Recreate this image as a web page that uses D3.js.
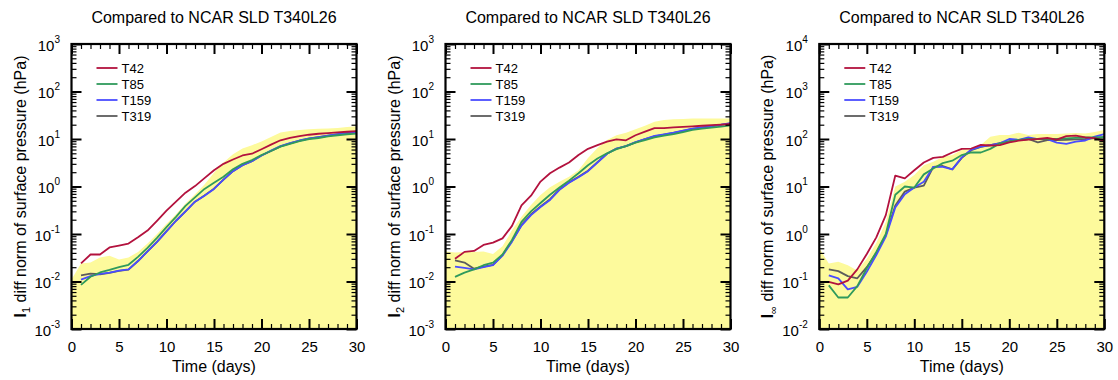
<!DOCTYPE html>
<html><head><meta charset="utf-8">
<script src="https://cdn.jsdelivr.net/npm/d3@7"></script>
<style>
body{margin:0;background:#fff}
svg{display:block}
text{font-family:"Liberation Sans",Arial,Helvetica,sans-serif;fill:#000}
</style>
</head><body>
<svg id="chart" width="1118" height="380"></svg>
<script>
// ---------------- DATA ----------------
const days = [1,2,3,4,5,6,7,8,9,10,11,12,13,14,15,16,17,18,19,20,21,22,23,24,25,26,27,28,29,30];
const envDays = [0,1,2,3,4,5,6,7,8,9,10,11,12,13,14,15,16,17,18,19,20,21,22,23,24,25,26,27,28,29,30];
const seriesNames = ["T42","T85","T159","T319"];
const xTickLabels = [0,5,10,15,20,25,30];
const titleText = "Compared to NCAR SLD T340L26";
const xTitle = "Time (days)";

// Panel 1 : l1 norm
const l1_T42  = [0.024,0.037,0.037,0.052,0.057,0.063,0.085,0.118,0.19,0.31,0.48,0.74,1.02,1.5,2.2,3.0,3.7,4.5,4.9,6.1,7.6,9.4,10.6,11.5,12.3,12.9,13.3,13.8,14.2,14.7];
const l1_T85  = [0.0085,0.0126,0.0155,0.0175,0.020,0.0225,0.033,0.051,0.083,0.14,0.23,0.39,0.59,0.89,1.2,1.6,2.3,3.0,3.6,4.6,5.6,6.9,7.9,9.0,10.0,10.5,11.3,12.0,12.6,13.0];
const l1_T159 = [0.011,0.013,0.0144,0.0154,0.017,0.018,0.027,0.043,0.068,0.114,0.19,0.30,0.48,0.64,0.89,1.4,2.1,2.8,3.4,4.5,5.7,7.1,8.2,9.3,10.3,11.0,11.8,12.6,13.4,14.2];
const l1_T319 = [0.0135,0.0146,0.0142,0.0152,0.0168,0.0178,0.027,0.043,0.068,0.115,0.19,0.30,0.48,0.65,0.9,1.4,2.1,2.8,3.4,4.5,5.6,7.0,8.1,9.2,10.2,10.9,11.7,12.5,13.2,14.0];
const l1_env  = [0.011,0.024,0.025,0.032,0.035,0.029,0.032,0.042,0.063,0.10,0.165,0.26,0.44,0.69,1.1,1.95,3.2,4.8,6.3,7.4,8.9,11,13.7,14.8,15.5,16,16.4,16.7,17,17.8,18.5];

// Panel 2 : l2 norm
const l2_T42  = [0.030,0.042,0.044,0.059,0.066,0.081,0.148,0.40,0.64,1.27,1.9,2.5,3.2,4.6,6.2,7.4,8.8,9.8,9.4,12,14.3,17,17,17.6,18,18.5,19,19.5,20,20.7];
const l2_T85  = [0.0125,0.0154,0.018,0.022,0.025,0.037,0.075,0.18,0.30,0.45,0.67,0.95,1.33,1.9,2.8,3.9,5.0,6.1,7.1,8.4,9.5,10.8,11.8,12.7,14,15.5,16.5,17.3,18.2,19.4];
const l2_T159 = [0.0205,0.0193,0.018,0.020,0.022,0.035,0.069,0.15,0.25,0.37,0.52,0.85,1.2,1.56,2.1,3.2,4.9,6.3,7.1,8.6,10,11.6,12.5,13.6,15,16.5,17.6,18.7,20,21.7];
const l2_T319 = [0.028,0.025,0.0186,0.0205,0.0225,0.036,0.071,0.155,0.26,0.38,0.54,0.87,1.22,1.6,2.15,3.25,4.9,6.3,7.1,8.5,9.9,11.4,12.4,13.5,14.8,16.3,17.4,18.5,19.8,21.3];
const l2_env  = [0.043,0.041,0.042,0.042,0.043,0.038,0.055,0.12,0.23,0.41,0.66,0.96,1.26,1.6,2.2,4.0,6.5,9.5,12,13.5,16,19,23,25,26,26.5,27,27,27,27,27];

// Panel 3 : l-infinity norm
const li_T42  = [0.098,0.087,0.104,0.18,0.38,0.85,2.5,17,14.8,22,32,40,42,52,62,63,75,73,74,85,92,97,100,105,97,115,118,108,104,90];
const li_T85  = [0.083,0.046,0.046,0.08,0.19,0.42,1.0,6.7,10,9.5,18,24,31,35,46,52,52,62,81,88,96,100,100,100,100,103,106,108,108,110];
const li_T159 = [0.135,0.116,0.068,0.077,0.16,0.36,0.88,3.6,6.9,9.5,12.6,26,26,23,41,60,69,74,81,100,96,108,99,99,84,79,88,93,112,127];
const li_T319 = [0.18,0.165,0.13,0.117,0.2,0.4,0.95,4.0,7.8,9.5,10.4,26,27,23,40,58,68,74,82,90,95,100,85,95,95,96,98,100,105,110];
const li_env  = [0.5,0.24,0.26,0.22,0.17,0.3,0.65,1.8,10,12.6,17.5,28,33,42,46,59,65,75,112,121,121,136,121,128,128,128,131,134,131,141,155];

// ---------------- STYLE / LAYOUT ----------------
const colors = {T42:"#b3123e", T85:"#2f9a5c", T159:"#4a4cff", T319:"#5c5c5c"};
const drawOrder = ["T319","T159","T85","T42"];
const fillColor = "#fdfa9c";
const plotTop = 44, plotBottom = 329, plotW = 285;

const panels = [
  {left:71.5,  lo:-3, hi:3, sub:"1", series:{T42:l1_T42,T85:l1_T85,T159:l1_T159,T319:l1_T319}, env:l1_env},
  {left:445.5, lo:-3, hi:3, sub:"2", series:{T42:l2_T42,T85:l2_T85,T159:l2_T159,T319:l2_T319}, env:l2_env},
  {left:819.3, lo:-2, hi:4, sub:"\u221E", series:{T42:li_T42,T85:li_T85,T159:li_T159,T319:li_T319}, env:li_env}
];

const svg = d3.select("#chart");

panels.forEach((p, pi) => {
  const x = d3.scaleLinear().domain([0,30]).range([p.left, p.left + plotW]);
  const y = d3.scaleLog().domain([Math.pow(10,p.lo), Math.pow(10,p.hi)]).range([plotBottom, plotTop]);
  const g = svg.append("g");

  const clipId = "clip" + pi;
  svg.append("clipPath").attr("id", clipId).append("rect")
    .attr("x", p.left).attr("y", plotTop).attr("width", plotW).attr("height", plotBottom - plotTop);

  const plot = g.append("g").attr("clip-path", `url(#${clipId})`);

  const area = d3.area()
    .x((d,i) => x(envDays[i]))
    .y0(plotBottom)
    .y1(d => y(d));
  plot.append("path").datum(p.env).attr("d", area).attr("fill", fillColor);

  const line = d3.line().x((d,i) => x(days[i])).y(d => y(d));
  drawOrder.forEach(name => {
    plot.append("path").datum(p.series[name]).attr("d", line)
      .attr("fill","none").attr("stroke", colors[name]).attr("stroke-width",1.8)
      .attr("stroke-linejoin","round");
  });

  const xMajor = xTickLabels;
  const xMinor = d3.range(0,31).filter(v => v % 5 !== 0);
  const yMajor = d3.range(p.lo, p.hi + 1).map(e => Math.pow(10,e));
  const yMinor = [];
  for (let e = p.lo; e < p.hi; e++) for (let m = 2; m <= 9; m++) yMinor.push(m * Math.pow(10,e));

  const addAxis = (axisGen, transform, w) => {
    const a = g.append("g").attr("transform", transform).call(axisGen);
    a.select(".domain").remove();
    a.selectAll(".tick line").attr("stroke","#000").attr("stroke-width",w);
    return a;
  };

  const xb = addAxis(d3.axisBottom(x).tickValues(xMajor).tickSize(-10).tickPadding(12).tickFormat(d3.format("d")), `translate(0,${plotBottom})`, 2);
  xb.selectAll("text").attr("font-size",15).attr("font-family",'"Liberation Sans",Arial,sans-serif').attr("fill","#000");
  addAxis(d3.axisBottom(x).tickValues(xMinor).tickSize(-5).tickFormat(""), `translate(0,${plotBottom})`, 1.2);
  addAxis(d3.axisTop(x).tickValues(xMajor).tickSize(-10).tickFormat(""), `translate(0,${plotTop})`, 2);
  addAxis(d3.axisTop(x).tickValues(xMinor).tickSize(-5).tickFormat(""), `translate(0,${plotTop})`, 1.2);
  addAxis(d3.axisLeft(y).tickValues(yMajor).tickSize(-10).tickFormat(""), `translate(${p.left},0)`, 2);
  addAxis(d3.axisLeft(y).tickValues(yMinor).tickSize(-5).tickFormat(""), `translate(${p.left},0)`, 1.2);
  addAxis(d3.axisRight(y).tickValues(yMajor).tickSize(-10).tickFormat(""), `translate(${p.left+plotW},0)`, 2);
  addAxis(d3.axisRight(y).tickValues(yMinor).tickSize(-5).tickFormat(""), `translate(${p.left+plotW},0)`, 1.2);

  d3.range(p.lo, p.hi + 1).forEach(e => {
    const t = g.append("text").attr("x", p.left - 11.5).attr("y", y(Math.pow(10,e)) + 6.5)
      .attr("text-anchor","end").attr("font-size",15);
    t.append("tspan").text("10");
    t.append("tspan").attr("dy",-8).attr("font-size",10).text(String(e));
  });

  g.append("rect").attr("x", p.left).attr("y", plotTop).attr("width", plotW).attr("height", plotBottom - plotTop)
    .attr("fill","none").attr("stroke","#000").attr("stroke-width",2.2);

  g.append("text").attr("x", p.left + plotW/2).attr("y", 23).attr("text-anchor","middle")
    .attr("font-size",16).text(titleText);

  g.append("text").attr("x", p.left + plotW/2).attr("y", 372).attr("text-anchor","middle")
    .attr("font-size",16).text(xTitle);

  const yt = g.append("text").attr("transform", `translate(${p.left - 46},${(plotTop+plotBottom)/2}) rotate(-90)`)
    .attr("text-anchor","middle").attr("font-size",16);
  yt.append("tspan").attr("font-weight","bold").text("l");
  yt.append("tspan").attr("font-size",11).attr("dy",4).text(p.sub);
  yt.append("tspan").attr("dy",-4).text(" diff norm of surface pressure (hPa)");

  seriesNames.forEach((name, i) => {
    const ly = 68 + i * 16;
    g.append("line").attr("x1", p.left + 25).attr("x2", p.left + 46).attr("y1", ly).attr("y2", ly)
      .attr("stroke", colors[name]).attr("stroke-width", 1.8);
    g.append("text").attr("x", p.left + 50).attr("y", ly + 4.5).attr("font-size",13).text(name);
  });
});
</script>
</body></html>
